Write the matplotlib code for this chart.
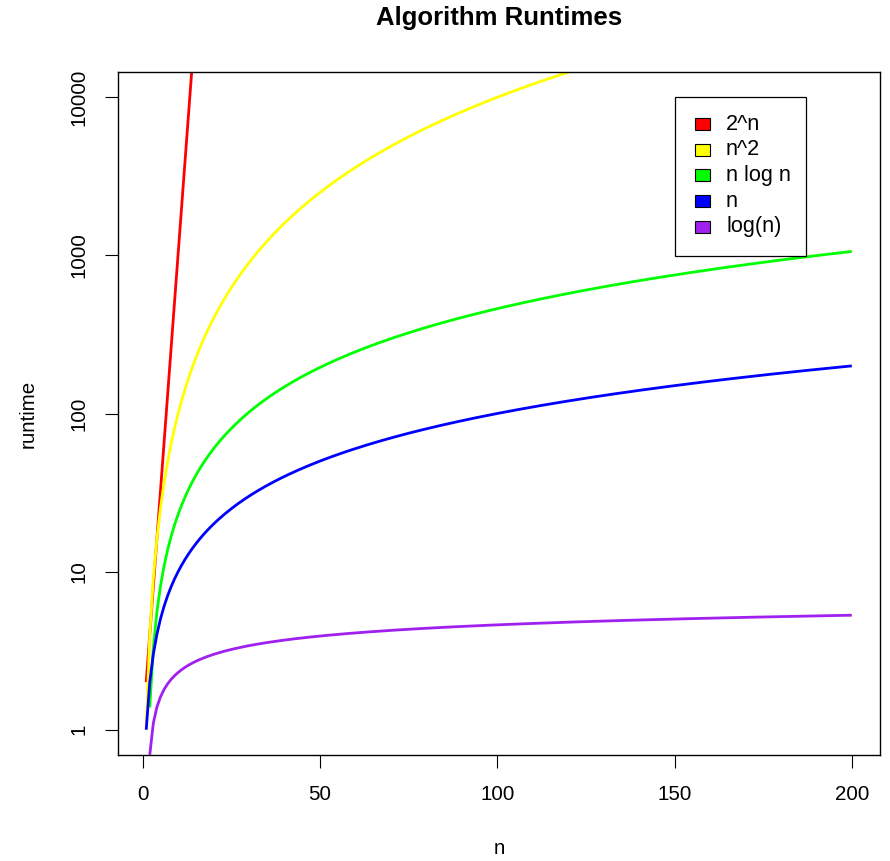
import numpy as np
import matplotlib
matplotlib.use("Agg")
import matplotlib.pyplot as plt
from matplotlib.patches import Rectangle

plt.rcParams['font.family'] = ['Liberation Sans', 'DejaVu Sans']

# data
n = np.arange(1, 201)
labels = ["2^n", "n^2", "n log n", "n", "log(n)"]
colors = ["#FF0000", "#FFFF00", "#00FF00", "#0000FF", "#A020F0"]
with np.errstate(over='ignore'):
    series = [2.0 ** n, n ** 2.0, n * np.log(n), n * 1.0, np.log(n)]
xticks = [0, 50, 100, 150, 200]
yticks = [1, 10, 100, 1000, 10000]
ytick_labels = ["1", "10", "100", "1000", "10000"]

W, H = 890, 861
fig = plt.figure(figsize=(W / 100, H / 100), dpi=100)
ax = fig.add_axes([118 / W, 1 - 755 / H, (880 - 118) / W, (755 - 72) / H])

for y, c in zip(series, colors):
    y = np.where(y > 0, y, np.nan)
    ax.plot(n, y, color=c, lw=2.0, solid_capstyle='butt')

ax.set_yscale('log', nonpositive='mask')
ax.set_xlim(-6.96, 207.96)
ax.set_ylim(10 ** -0.16, 10 ** 4.16)
ax.set_xticks(xticks)
ax.set_xticklabels([str(v) for v in xticks])
ax.set_yticks(yticks)
ax.set_yticklabels(ytick_labels)
ax.minorticks_off()
ax.yaxis.set_minor_locator(matplotlib.ticker.NullLocator())

for s in ax.spines.values():
    s.set_linewidth(1.0)
    s.set_color('black')
ax.tick_params(axis='both', direction='out', length=9.4, width=0.8, labelsize=14.8, colors='black')
ax.tick_params(axis='x', pad=12)
ax.tick_params(axis='y', pad=12)
for t in ax.get_yticklabels():
    t.set_rotation(90)
    t.set_va('center')
    t.set_ha('right')

fig.text(499 / W, 1 - 18.5 / H, "Algorithm Runtimes", ha='center', va='center',
         fontsize=18.5, fontweight='bold')
fig.text(499 / W, 1 - 848 / H, "n", ha='center', va='center', fontsize=14.8)
fig.text(28 / W, 1 - 414 / H, "runtime", ha='center', va='center', rotation=90, fontsize=14.8)

# legend, drawn in figure pixels
def fx(x):
    return x / W

def fy(y):
    return 1 - y / H

fig.add_artist(Rectangle((fx(675), fy(256)), (806 - 675) / W, (256 - 97) / H,
                         transform=fig.transFigure, fill=True, facecolor='white',
                         edgecolor='black', lw=0.9))
row0, step = 124, 25.7
for i, (lab, c) in enumerate(zip(labels, colors)):
    yc = row0 + i * step
    fig.add_artist(Rectangle((fx(695), fy(yc + 6)), 15 / W, 12 / H,
                             transform=fig.transFigure, facecolor=c,
                             edgecolor='black', lw=0.8))
    fig.text(fx(726), fy(yc), lab, ha='left', va='center', fontsize=15.6)

fig.savefig("out.png", dpi=100)
